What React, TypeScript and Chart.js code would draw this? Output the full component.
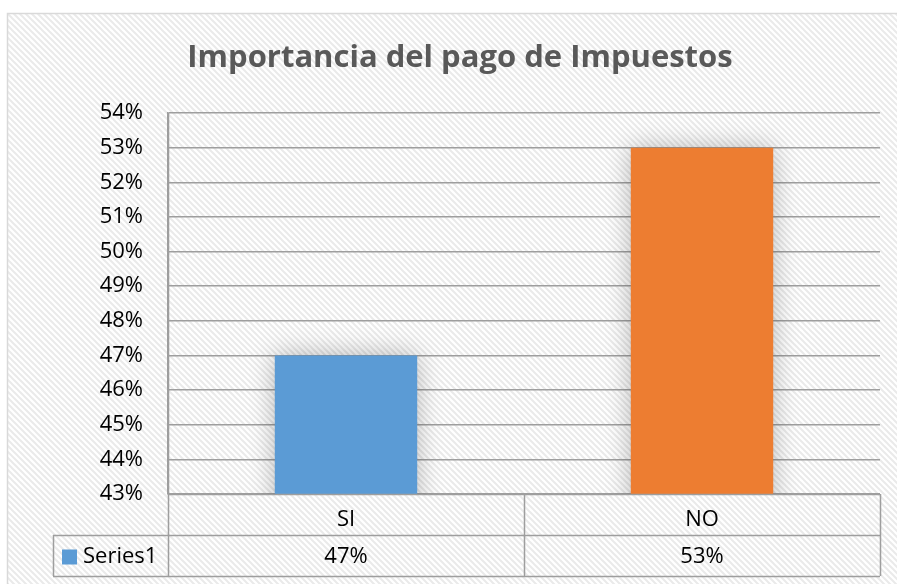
import React, { useEffect, useRef } from "react";
import { Chart, registerables } from "chart.js";

Chart.register(...registerables);

const TITLE = "Importancia del pago de Impuestos";
const CATEGORIES = ["SI", "NO"];
const SERIES_NAME = "Series1";
const VALUES = [47, 53];
const BAR_COLORS = ["#5B9BD5", "#ED7D31"];
const Y_MIN = 43;
const Y_MAX = 54;

const FONT = "'Open Sans', Lato, sans-serif";
const GRID = "#9e9e9e";

function makePattern(ctx: CanvasRenderingContext2D) {
  const c = document.createElement("canvas");
  c.width = 6;
  c.height = 6;
  const g = c.getContext("2d")!;
  g.fillStyle = "#ffffff";
  g.fillRect(0, 0, 6, 6);
  g.strokeStyle = "#eaeaea";
  g.lineWidth = 2;
  g.beginPath();
  g.moveTo(-1, -1);
  g.lineTo(7, 7);
  g.moveTo(-4, 2);
  g.lineTo(4, 10);
  g.moveTo(2, -4);
  g.lineTo(10, 4);
  g.stroke();
  return ctx.createPattern(c, "repeat");
}

const backgroundPlugin = {
  id: "bgHatch",
  beforeDraw(chart: any) {
    const ctx = chart.ctx as CanvasRenderingContext2D;
    ctx.save();
    ctx.fillStyle = "#ffffff";
    ctx.fillRect(0, 0, chart.width, chart.height);
    const p = makePattern(ctx);
    if (p) ctx.fillStyle = p;
    ctx.fillRect(7, 13, chart.width, chart.height);
    ctx.strokeStyle = "#d9d9d9";
    ctx.lineWidth = 1.5;
    ctx.beginPath();
    ctx.moveTo(7.5, chart.height + 5);
    ctx.lineTo(7.5, 13.5);
    ctx.lineTo(chart.width + 5, 13.5);
    ctx.stroke();
    // title
    ctx.fillStyle = "#595959";
    ctx.font = `bold 31px ${FONT}`;
    ctx.textAlign = "center";
    ctx.textBaseline = "middle";
    ctx.fillText(TITLE, 460, 58);
    ctx.restore();
  },
};

const shadowPlugin = {
  id: "barShadow",
  beforeDatasetsDraw(chart: any) {
    const ctx = chart.ctx as CanvasRenderingContext2D;
    ctx.save();
    ctx.shadowColor = "rgba(0,0,0,0.28)";
    ctx.shadowBlur = 24;
    ctx.shadowOffsetX = 0;
    ctx.shadowOffsetY = 0;
  },
  afterDatasetsDraw(chart: any) {
    chart.ctx.restore();
  },
};

const tablePlugin = {
  id: "dataTable",
  afterDraw(chart: any) {
    const ctx = chart.ctx as CanvasRenderingContext2D;
    const area = chart.chartArea;
    const x = chart.scales.x;
    const centers = CATEGORIES.map((_, i) => x.getPixelForValue(i));
    const bounds = [area.left];
    for (let i = 0; i < centers.length - 1; i++) bounds.push((centers[i] + centers[i + 1]) / 2);
    bounds.push(area.right);
    const rowH = 41;
    const r1 = area.bottom;
    const r2 = r1 + rowH;
    const r3 = r2 + rowH;
    const legendLeft = 53;
    const h = (v: number) => Math.round(v) + 0.5;
    ctx.save();
    ctx.strokeStyle = GRID;
    ctx.lineWidth = 1.5;
    ctx.beginPath();
    ctx.moveTo(area.left, h(r1));
    ctx.lineTo(area.right, h(r1));
    ctx.moveTo(legendLeft, h(r2));
    ctx.lineTo(area.right, h(r2));
    ctx.moveTo(legendLeft, h(r3));
    ctx.lineTo(area.right, h(r3));
    bounds.forEach((b, i) => {
      ctx.moveTo(h(b), i === 0 ? area.top : r1);
      ctx.lineTo(h(b), r3);
    });
    ctx.moveTo(h(legendLeft), r2);
    ctx.lineTo(h(legendLeft), r3);
    ctx.stroke();

    ctx.font = `22px ${FONT}`;
    ctx.fillStyle = "#000000";
    ctx.textBaseline = "middle";
    ctx.textAlign = "center";
    const my = (r2 + r3) / 2 + 1;
    VALUES.forEach((v, i) => ctx.fillText(`${v}%`, centers[i], my));
    ctx.fillStyle = BAR_COLORS[0];
    ctx.fillRect(62, my - 7, 15, 15);
    ctx.fillStyle = "#000000";
    ctx.textAlign = "left";
    ctx.fillText(SERIES_NAME, 83, my);
    ctx.restore();
  },
};

export default function App() {
  const ref = useRef<HTMLCanvasElement>(null);
  useEffect(() => {
    if (!ref.current) return;
    const chart = new Chart(ref.current, {
      type: "bar",
      data: {
        labels: CATEGORIES,
        datasets: [
          {
            label: SERIES_NAME,
            data: VALUES,
            backgroundColor: BAR_COLORS,
            borderWidth: 0,
            barPercentage: 0.4,
            categoryPercentage: 1,
          },
        ],
      },
      options: {
        animation: false,
        responsive: false,
        maintainAspectRatio: false,
        layout: { padding: { left: 0, top: 113, right: 17, bottom: 8 } },
        plugins: {
          legend: { display: false },
          title: { display: false },
          tooltip: { enabled: false },
        },
        scales: {
          x: {
            grid: { display: false },
            border: { display: false },
            ticks: {
              color: "#000000",
              font: { family: FONT, size: 22 },
              padding: 5,
            },
            afterFit: (s: any) => {
              s.height = 82;
            },
          },
          y: {
            min: Y_MIN,
            max: Y_MAX,
            grid: { color: GRID, lineWidth: 1.5, drawTicks: false },
            border: { display: true, color: GRID, width: 1.5 },
            ticks: {
              stepSize: 1,
              color: "#000000",
              font: { family: FONT, size: 22 },
              padding: 25,
              callback: (v: any) => `${v}%`,
            },
            afterFit: (s: any) => {
              s.width = 168;
            },
          },
        },
      },
      plugins: [backgroundPlugin, shadowPlugin, tablePlugin],
    });
    return () => chart.destroy();
  }, []);
  return (
    <div style={{ position: "fixed", left: 0, top: 0, width: 897, height: 584 }}>
      <canvas ref={ref} width={897} height={584} style={{ width: 897, height: 584 }} />
    </div>
  );
}
